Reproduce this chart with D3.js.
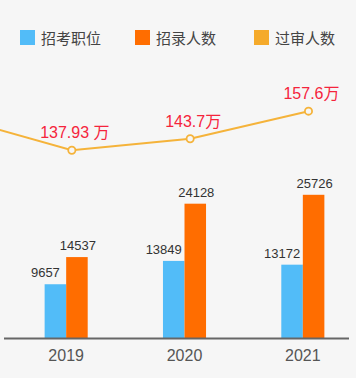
<!DOCTYPE html>
<html><head><meta charset="utf-8">
<script src="https://cdn.jsdelivr.net/npm/d3@7"></script>
<style>
html,body{margin:0;padding:0;background:#f6f6f6;}
svg{display:block;}
</style></head>
<body><svg id="c" width="356" height="378"></svg>
<script>
const years = ["2019", "2020", "2021"];
const positions = [9657, 13849, 13172];       // 招考职位
const recruits = [14537, 24128, 25726];       // 招录人数
const lineYears = ["2018", "2019", "2020", "2021"];
const passed = [154.7, 137.93, 143.7, 157.6]; // 过审人数 (万); 2018 only partly visible
const passedLabels = ["", "137.93 万", "143.7万", "157.6万"];
const seriesNames = ["招考职位", "招录人数", "过审人数"];
const colors = ["#52bcf8", "#ff6d00", "#f5aa2a"];

const svg = d3.select("#c");
const W = 356, H = 378;
svg.append("rect").attr("width", W).attr("height", H).attr("fill", "#f6f6f6");

const baseY = 338;
const x0 = d3.scaleBand().domain(years).range([7, 362]).paddingInner(0.636).paddingOuter(0.318);
const x1 = d3.scaleBand().domain([0, 1]).range([0, x0.bandwidth()]);
const y = d3.scaleLinear().domain([0, 30000]).range([baseY, 171]);
const xl = d3.scalePoint().domain(lineYears).range([-46.5, 308.5]);
const yl = d3.scaleLinear().domain([0, 200]).range([424, 27]);

const numFont = "'Liberation Sans', Arial, 'Noto Sans CJK SC', sans-serif";
const cjkFont = "'Noto Sans CJK SC', 'Microsoft YaHei', sans-serif";

// legend
const legX = [20, 135, 254];
const leg = svg.append("g");
seriesNames.forEach((n, i) => {
  leg.append("rect").attr("x", legX[i]).attr("y", 30).attr("width", 15).attr("height", 15).attr("fill", colors[i]);
  leg.append("text").attr("x", legX[i] + 21).attr("y", 43.5).text(n)
    .attr("font-family", cjkFont).attr("font-size", 15).attr("fill", "#444");
});

// bars
const series = [positions, recruits];
series.forEach((vals, s) => {
  svg.append("g").selectAll("rect").data(vals).join("rect")
    .attr("x", (d, i) => x0(years[i]) + x1(s))
    .attr("y", d => y(d))
    .attr("width", x1.bandwidth())
    .attr("height", d => baseY - y(d))
    .attr("fill", colors[s]);
});
series.forEach((vals, s) => {
  svg.append("g").selectAll("text").data(vals).join("text")
    .attr("x", (d, i) => x0(years[i]) + x1(s) + x1.bandwidth() / 2 + (s === 0 ? -10 : 1))
    .attr("y", d => y(d) - 7)
    .attr("text-anchor", "middle")
    .attr("font-family", numFont).attr("font-size", 13).attr("fill", "#333")
    .text(d => d);
});

// axis
const xAxis = d3.axisBottom(x0).tickSize(0).tickPadding(12);
const ax = svg.append("g").attr("transform", `translate(0,${baseY})`).call(xAxis);
ax.select(".domain").remove();
ax.append("line").attr("x1", 4).attr("x2", 349).attr("y1", 0.5).attr("y2", 0.5)
  .attr("stroke", "#666").attr("stroke-width", 2);
ax.selectAll(".tick text").attr("font-family", numFont).attr("font-size", 16).attr("fill", "#555");

// line
const lineData = lineYears.map((yr, i) => ({yr, v: passed[i], lab: passedLabels[i]}));
const line = d3.line().x(d => xl(d.yr)).y(d => yl(d.v));
svg.append("path").datum(lineData).attr("d", line)
  .attr("fill", "none").attr("stroke", "#f5b33a").attr("stroke-width", 2);
const vis = lineData.filter(d => years.includes(d.yr));
svg.append("g").selectAll("circle").data(vis).join("circle")
  .attr("cx", d => xl(d.yr)).attr("cy", d => yl(d.v)).attr("r", 3.6)
  .attr("fill", "#f6f6f6").attr("stroke", "#f5b33a").attr("stroke-width", 1.8);
svg.append("g").selectAll("text").data(vis).join("text")
  .attr("x", d => xl(d.yr) + 3).attr("y", d => yl(d.v) - 12)
  .attr("text-anchor", "middle")
  .attr("font-family", numFont).attr("font-size", 16).attr("fill", "#f5243c")
  .text(d => d.lab);
</script></body></html>
